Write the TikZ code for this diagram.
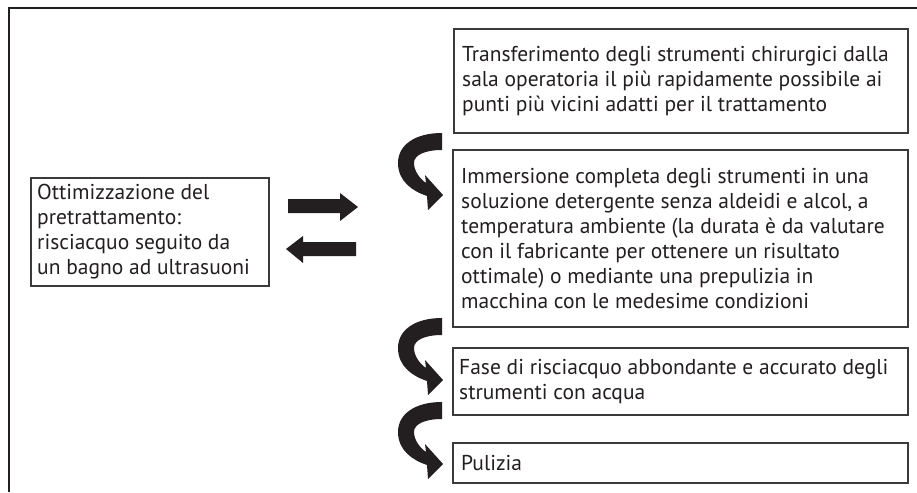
\documentclass[tikz,border=0pt]{standalone}
\usepackage{fontspec}
\setmainfont{PT Sans}
\definecolor{ink}{HTML}{231F20}
\definecolor{boxgray}{HTML}{3A3A3A}
\begin{document}
\begin{tikzpicture}[x=1pt,y=-1pt,
  frameline/.style={draw=ink,line width=1.4pt},
  box/.style={draw=boxgray,line width=1.3pt,anchor=north west,inner sep=0pt,outer sep=0pt},
  txt/.style={anchor=west,align=left,inner sep=0pt,text=ink,font=\fontsize{21.5}{25}\selectfont},
  curvarrow/.pic={\fill[ink] (0,0) .. controls (-27,0) and (-44,12) .. (-44,30)
      .. controls (-44,48) and (-30,58) .. (-15,63) -- (-14,77) -- (1,62) -- (-17,42) -- (-16,50)
      .. controls (-22,46) and (-28,38) .. (-28,30)
      .. controls (-28,22) and (-17,17) .. (0,17) -- cycle;}
]
\useasboundingbox (0,0) rectangle (917,492);
\fill[white] (0,0) rectangle (917,492);
% outer frame (only top and left visible)
\coordinate (fl) at (9,492);
\coordinate (fc) at (9,8);
\coordinate (fr) at (917,8);
\draw[frameline] (fl) -- (fc) -- (fr);

% left box
\node[box,minimum width=238,minimum height=108] (b0) at (31,178) {};
\node[txt] (t0) at ([xshift=6]b0.west) {Ottimizzazione del\\pretrattamento:\\risciacquo seguito da\\un bagno ad ultrasuoni};

% right boxes
\node[box,minimum width=454,minimum height=104] (b1) at (454,29) {};
\node[txt] (t1) at ([xshift=8]b1.west) {Transferimento degli strumenti chirurgici dalla\\sala operatoria il più rapidamente possibile ai\\punti più vicini adatti per il trattamento};

\node[box,minimum width=455,minimum height=177] (b2) at (453,150) {};
\node[txt] (t2) at ([xshift=8]b2.west) {Immersione completa degli strumenti in una\\soluzione detergente senza aldeidi e alcol, a\\temperatura ambiente (la durata è da valutare\\con il fabricante per ottenere un risultato\\ottimale) o mediante una prepulizia in\\macchina con le medesime condizioni};

\node[box,minimum width=455,minimum height=67] (b3) at (453,348) {};
\node[txt] (t3) at ([xshift=6]b3.west) {Fase di risciacquo abbondante e accurato degli\\strumenti con acqua};

\node[box,minimum width=455,minimum height=40] (b4) at (453,443) {};
\node[txt] (t4) at ([xshift=8]b4.west) {Pulizia};

% straight arrows
\fill[ink] (288,199) -- (340,199) -- (340,193) -- (358,207) -- (340,221) -- (340,213) -- (288,213) -- cycle;
\fill[ink] (356,242) -- (303,242) -- (303,236) -- (286,249) -- (303,263) -- (303,256) -- (356,256) -- cycle;

% curved arrows
\pic at (442,133) {curvarrow};
\pic at (442,318) {curvarrow};
\pic at (442,402) {curvarrow};
\end{tikzpicture}
\end{document}
